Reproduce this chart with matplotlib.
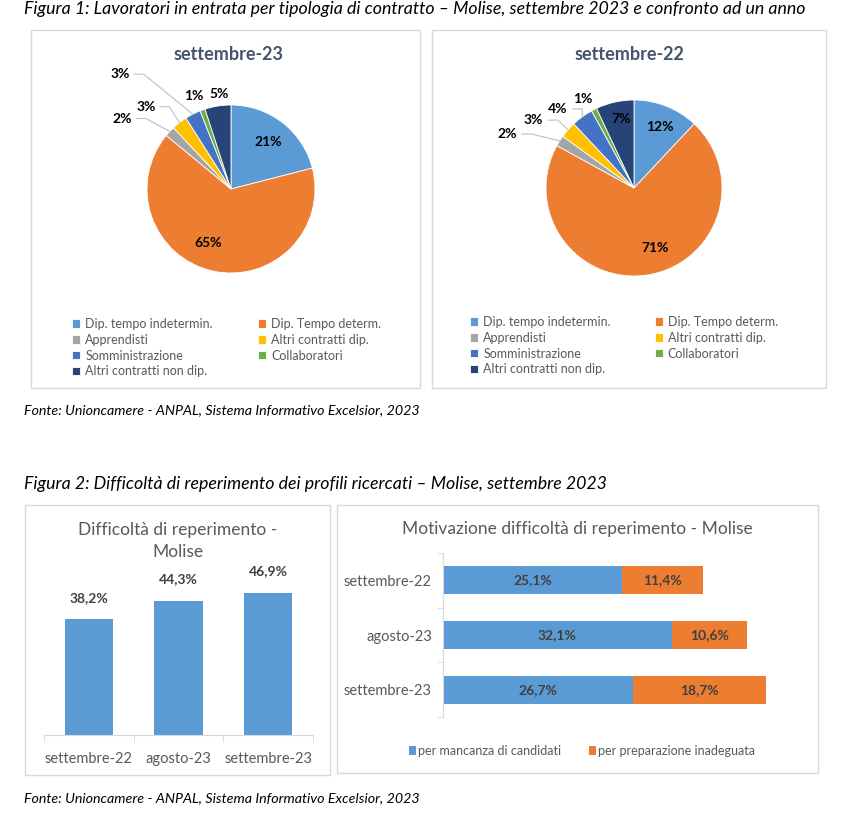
import numpy as np
import matplotlib
matplotlib.use("Agg")
import matplotlib.pyplot as plt
from matplotlib.patches import Rectangle

plt.rcParams['font.family'] = ['Lato', 'DejaVu Sans']

# ----------------------------
# Data
# ----------------------------
contratti = ['Dip. tempo indetermin.', 'Dip. Tempo determ.', 'Apprendisti',
             'Altri contratti dip.', 'Somministrazione', 'Collaboratori',
             'Altri contratti non dip.']
quote_set23 = [21, 65, 2, 3, 3, 1, 5]
quote_set22 = [12, 71, 2, 3, 4, 1, 7]

periodi = ['settembre-22', 'agosto-23', 'settembre-23']
difficolta = [38.2, 44.3, 46.9]
mancanza_candidati = [25.1, 32.1, 26.7]
preparazione_inadeguata = [11.4, 10.6, 18.7]

colori_pie = ['#5B9BD5', '#ED7D31', '#A5A5A5', '#FFC000', '#4472C4', '#70AD47', '#264478']
BLUE = '#5B9BD5'
ORANGE = '#ED7D31'
GRID = '#D9D9D9'
TXT = '#595959'

W, H = 841, 814
fig = plt.figure(figsize=(W / 100, H / 100), dpi=100)


def rect(x0, y0, x1, y1):
    # pixel box (top-left origin) -> figure fraction
    return [x0 / W, 1 - y1 / H, (x1 - x0) / W, (y1 - y0) / H]


def fx(x):
    return x / W


def fy(y):
    return 1 - y / H


def frame(x0, y0, x1, y1):
    fig.patches.append(Rectangle((fx(x0), fy(y1)), (x1 - x0) / W, (y1 - y0) / H,
                                 transform=fig.transFigure, fill=False,
                                 edgecolor=GRID, linewidth=1))


# captions
fig.text(fx(24), fy(9), 'Figura 1: Lavoratori in entrata per tipologia di contratto \u2013 Molise, settembre 2023 e confronto ad un anno',
         fontsize=12.8, style='italic', va='center', ha='left', color='black')
fig.text(fx(24), fy(410), 'Fonte: Unioncamere - ANPAL, Sistema Informativo Excelsior, 2023',
         fontsize=10.3, style='italic', va='center', ha='left', color='black')
fig.text(fx(24), fy(484), 'Figura 2: Difficolt\u00e0 di reperimento dei profili ricercati \u2013 Molise, settembre 2023',
         fontsize=12.8, style='italic', va='center', ha='left', color='black')
fig.text(fx(24), fy(798), 'Fonte: Unioncamere - ANPAL, Sistema Informativo Excelsior, 2023',
         fontsize=10.3, style='italic', va='center', ha='left', color='black')

frame(31, 30, 420, 388)
frame(432, 30, 826, 388)
frame(25, 505, 330, 775)
frame(337, 505, 818, 773)


# ----------------------------
# Pie charts
# ----------------------------
def draw_pie(box, values, title, title_xy, label_pos, legend_xy, colsp):
    ax = fig.add_axes(rect(*box))
    wedges, _ = ax.pie(values, colors=colori_pie, startangle=90, counterclock=False,
                       wedgeprops=dict(edgecolor='white', linewidth=0.6))
    ax.set_xlim(-1, 1)
    ax.set_ylim(-1, 1)
    ax.set_aspect('equal')
    ax.axis('off')
    for w, v, (rf, ang, outside) in zip(wedges, values, label_pos):
        mid = np.deg2rad((w.theta1 + w.theta2) / 2)
        a = np.deg2rad(ang)
        tx, ty = rf * np.cos(a), rf * np.sin(a)
        ax.text(tx, ty, f'{v}%', ha='center', va='center', fontsize=10,
                fontweight='bold', color='black')
        if outside:
            ex, ey = np.cos(mid), np.sin(mid)
            ax.plot([tx + 0.17, tx + 0.28, ex], [ty, ty, ey], color='#BFBFBF',
                    linewidth=0.8, clip_on=False)
    fig.text(fx(title_xy[0]), fy(title_xy[1]), title, ha='center', va='center',
             fontsize=13, fontweight='bold', color='#44546A')
    order = [0, 2, 4, 6, 1, 3, 5]
    leg = fig.legend([wedges[i] for i in order], [contratti[i] for i in order],
                     ncol=2, loc='upper left',
                     bbox_to_anchor=(fx(legend_xy[0]), fy(legend_xy[1])),
                     frameon=False, fontsize=9, handlelength=0.65, handleheight=0.65,
                     handletextpad=0.4, columnspacing=colsp, labelspacing=0.3,
                     borderaxespad=0, borderpad=0)
    for t in leg.get_texts():
        t.set_color(TXT)


# (radius factor, angle deg, outside?)
pos_set23 = [(0.71, 52, False), (0.7, -113, False), (1.54, 147, True), (1.41, 136, True),
             (1.9, 134, True), (1.19, 112, False), (1.14, 97, False)]
pos_set22 = [(0.75, 67, False), (0.72, -71, False), (1.57, 157, True), (1.38, 146, True),
             (1.25, 134, True), (1.17, 120, False), (0.8, 101, False)]

draw_pie((147, 105, 315, 273), quote_set23, 'settembre-23', (229, 54), pos_set23, (72, 318), 3.6)
draw_pie((546, 100, 722, 276), quote_set22, 'settembre-22', (629, 54), pos_set22, (470, 316), 3.5)


# ----------------------------
# Bar chart: difficolta di reperimento
# ----------------------------
ax = fig.add_axes(rect(44, 565, 313, 735))
x = np.arange(len(periodi))
bars = ax.bar(x, difficolta, width=0.54, color=BLUE)
ax.set_xlim(-0.5, 2.5)
ax.set_ylim(0, 56)
for s in ['top', 'right', 'left']:
    ax.spines[s].set_visible(False)
ax.spines['bottom'].set_color(GRID)
ax.set_yticks([])
ax.set_xticks(x)
ax.set_xticklabels(periodi, fontsize=10.5, color=TXT)
ax.tick_params(axis='x', which='major', length=0, pad=12)
ax.set_xticks([-0.5, 0.5, 1.5, 2.5], minor=True)
ax.tick_params(axis='x', which='minor', length=5, color=GRID)
for b, v in zip(bars, difficolta):
    ax.text(b.get_x() + b.get_width() / 2, v + 5, f'{v:.1f}%'.replace('.', ','),
            ha='center', va='bottom', fontsize=10, fontweight='bold', color='#404040')
ax.patch.set_visible(False)
fig.text(fx(178), fy(530), 'Difficolt\u00e0 di reperimento -', ha='center', va='center',
         fontsize=12.5, color=TXT)
fig.text(fx(178), fy(552), 'Molise', ha='center', va='center', fontsize=12.5, color=TXT)


# ----------------------------
# Horizontal stacked bars: motivazione
# ----------------------------
ax2 = fig.add_axes(rect(443, 553, 799, 717))
y = np.arange(len(periodi))
b1 = ax2.barh(y, mancanza_candidati, height=0.51, color=BLUE, label='per mancanza di candidati')
b2 = ax2.barh(y, preparazione_inadeguata, left=mancanza_candidati, height=0.51, color=ORANGE,
              label='per preparazione inadeguata')
ax2.set_xlim(0, 50)
ax2.set_ylim(2.5, -0.5)
for s in ['top', 'right', 'bottom']:
    ax2.spines[s].set_visible(False)
ax2.spines['left'].set_color(GRID)
ax2.set_xticks([])
ax2.set_yticks(y)
ax2.set_yticklabels(periodi, fontsize=10.5, color=TXT)
ax2.tick_params(axis='y', which='major', length=0, pad=8)
ax2.set_yticks([-0.5, 0.5, 1.5, 2.5], minor=True)
ax2.tick_params(axis='y', which='minor', length=4, color=GRID)
ax2.patch.set_visible(False)
for i in range(len(periodi)):
    ax2.text(mancanza_candidati[i] / 2, y[i], f'{mancanza_candidati[i]:.1f}%'.replace('.', ','),
             ha='center', va='center', fontsize=10, fontweight='bold', color='#404040')
    ax2.text(mancanza_candidati[i] + preparazione_inadeguata[i] / 2, y[i],
             f'{preparazione_inadeguata[i]:.1f}%'.replace('.', ','),
             ha='center', va='center', fontsize=10, fontweight='bold', color='#404040')
fig.text(fx(577), fy(529), 'Motivazione difficolt\u00e0 di reperimento - Molise', ha='center',
         va='center', fontsize=12.5, color=TXT)
leg2 = fig.legend(handles=[b1, b2], ncol=2, loc='center', bbox_to_anchor=(fx(582), fy(751)),
                  frameon=False, fontsize=9, handlelength=0.55, handleheight=0.7,
                  handletextpad=0.2, columnspacing=2.2, borderpad=0)
for t in leg2.get_texts():
    t.set_color(TXT)

fig.savefig('out.png', dpi=100, facecolor='white')
